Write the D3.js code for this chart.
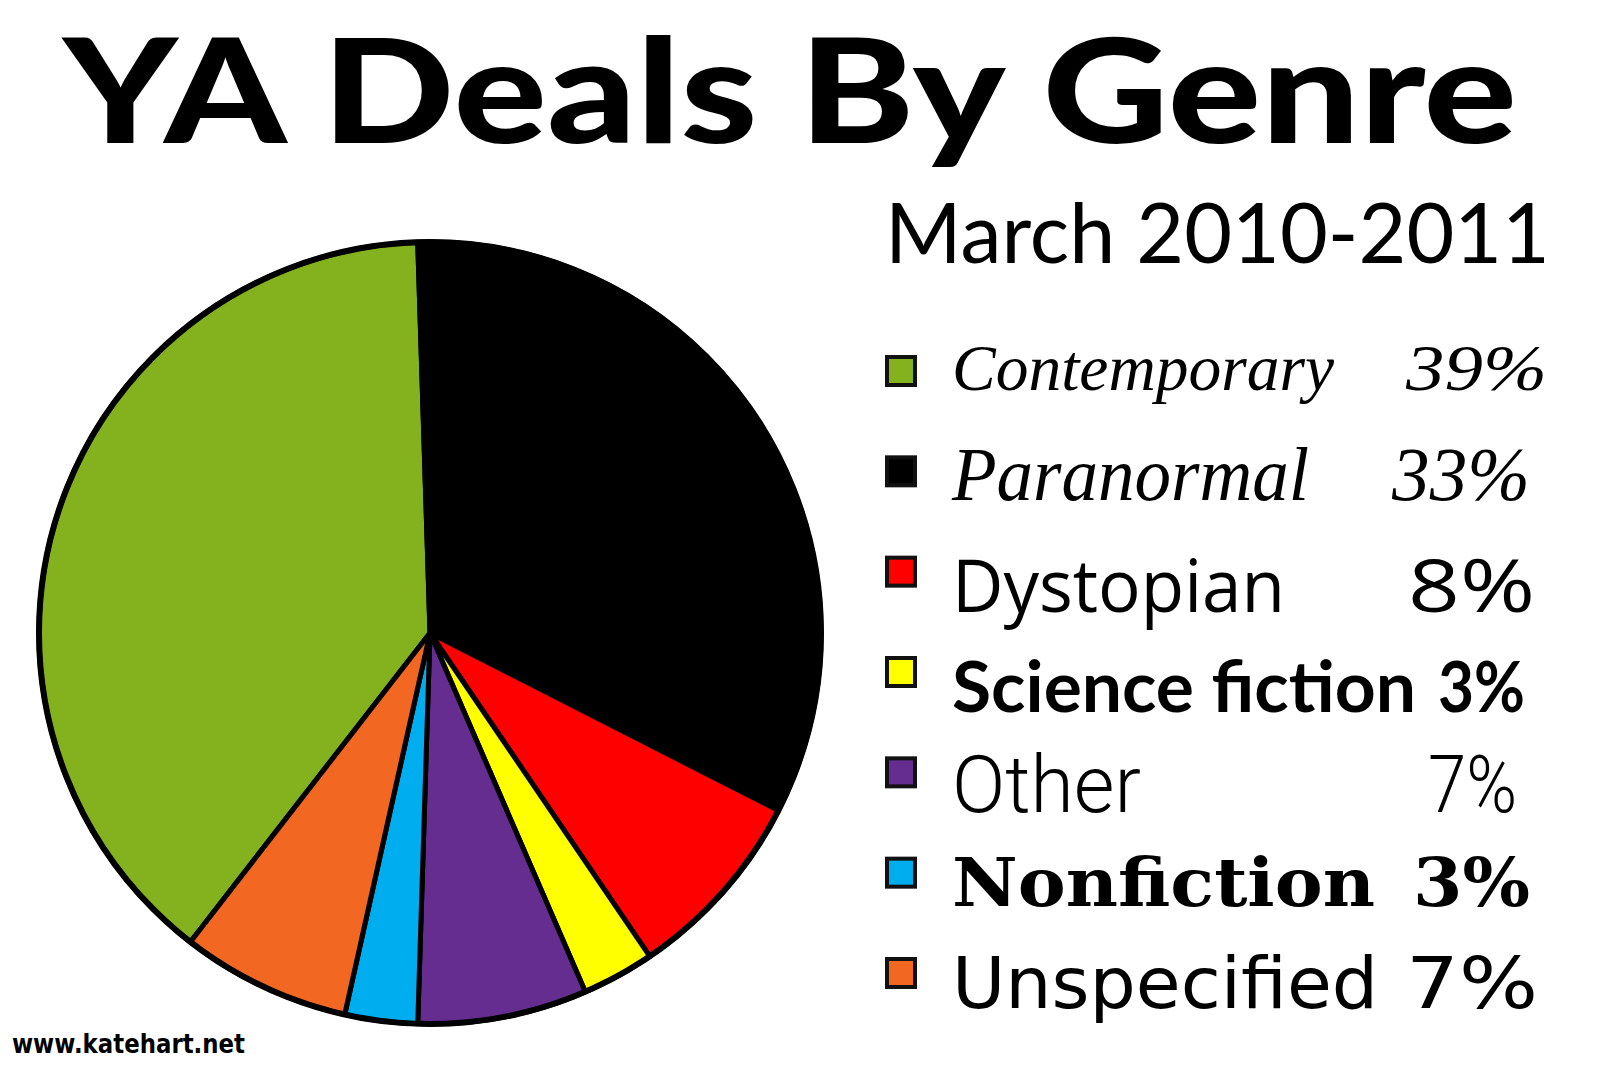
<!DOCTYPE html>
<html>
<head>
<meta charset="utf-8">
<script src="https://cdn.jsdelivr.net/npm/d3@7"></script>
<style>
  html, body { margin: 0; padding: 0; background: #fff; }
  svg { display: block; }
</style>
</head>
<body>
<div id="chart"></div>
<script>
// data
const genres = ["Contemporary", "Paranormal", "Dystopian", "Science fiction", "Other", "Nonfiction", "Unspecified"];
const shares = [39, 33, 8, 3, 7, 3, 7];
const sliceColors = ["#84b11e", "#000000", "#ff0000", "#ffff00", "#662d91", "#00aeef", "#f26722"];

// one font per legend row, as in the original
const rowFonts = [
  { family: "Liberation Serif", style: "italic", weight: 400, size: 66 },
  { family: "Liberation Serif", style: "italic", weight: 400, size: 76 },
  { family: "Open Sans", style: "normal", weight: 400, size: 74 },
  { family: "Lato", style: "normal", weight: 700, size: 70 },
  { family: "Roboto", style: "normal", weight: 300, size: 80 },
  { family: "DejaVu Serif", style: "normal", weight: 700, size: 68 },
  { family: "DejaVu Sans", style: "normal", weight: 400, size: 72 }
];
// baseline offset under each legend square, label widths and right edge of the percentages
const rowBaseline = [33, 43, 54, 54, 54, 47, 49];
const nameWidth = [382, 357, 333, 464, 189, 423, 426];
const pctWidth = [141, 138, 127, 87, 89, 117, 132];
const pctRight = [1547, 1530, 1535, 1525, 1517, 1530, 1538];

const width = 1600;
const height = 1066;

const svg = d3.select("#chart").append("svg").attr("width", width).attr("height", height);

//Title
svg.append("text").attr("x", 63).attr("y", 143)
  .attr("textLength", 1454).attr("lengthAdjust", "spacingAndGlyphs")
  .style("font-family", "Lato").style("font-weight", 900).style("font-size", "144px")
  .text("YA Deals By Genre");

//Subtitle
svg.append("text").attr("x", 885).attr("y", 263)
  .attr("textLength", 665).attr("lengthAdjust", "spacingAndGlyphs")
  .style("font-family", "Lato").style("font-weight", 400).style("font-size", "84px")
  .text("March 2010-2011");

//Pie
const color = d3.scaleOrdinal().domain(genres).range(sliceColors);
const startDeg = -142.2;
const pie = d3.pie().sort(null).value(d => d.share)
  .startAngle(startDeg * Math.PI / 180)
  .endAngle(startDeg * Math.PI / 180 + 2 * Math.PI);
const radius = 391;
const arc = d3.arc().innerRadius(0).outerRadius(radius);

const rows = genres.map((g, i) => ({ genre: g, share: shares[i] }));

const pieG = svg.append("g").attr("transform", "translate(430, 633)");
pieG.selectAll("path").data(pie(rows)).enter().append("path")
  .attr("d", arc)
  .attr("fill", d => color(d.data.genre))
  .attr("stroke", "#000")
  .attr("stroke-width", 5)
  .attr("stroke-linejoin", "round");
pieG.append("circle").attr("r", radius).attr("fill", "none").attr("stroke", "#000").attr("stroke-width", 6);

//Legend
const rowY = d3.scaleLinear().domain([0, genres.length - 1]).range([357, 959]);
const legend = svg.append("g").attr("id", "legend");
const item = legend.selectAll("g").data(rows).enter().append("g");

item.append("rect")
  .attr("x", 887).attr("y", (d, i) => rowY(i))
  .attr("width", 28).attr("height", 28)
  .attr("fill", d => color(d.genre))
  .attr("stroke", "#111").attr("stroke-width", 4);

item.append("text")
  .attr("x", 952).attr("y", (d, i) => rowY(i) + rowBaseline[i])
  .attr("textLength", (d, i) => nameWidth[i]).attr("lengthAdjust", "spacingAndGlyphs")
  .style("font-family", (d, i) => rowFonts[i].family)
  .style("font-style", (d, i) => rowFonts[i].style)
  .style("font-weight", (d, i) => rowFonts[i].weight)
  .style("font-size", (d, i) => rowFonts[i].size + "px")
  .text(d => d.genre);

item.append("text")
  .attr("x", (d, i) => pctRight[i] - pctWidth[i]).attr("y", (d, i) => rowY(i) + rowBaseline[i])
  .attr("textLength", (d, i) => pctWidth[i]).attr("lengthAdjust", "spacingAndGlyphs")
  .style("font-family", (d, i) => rowFonts[i].family)
  .style("font-style", (d, i) => rowFonts[i].style)
  .style("font-weight", (d, i) => rowFonts[i].weight)
  .style("font-size", (d, i) => rowFonts[i].size + "px")
  .text(d => d.share + "%");

//Footer
svg.append("text").attr("x", 12).attr("y", 1053)
  .attr("textLength", 233).attr("lengthAdjust", "spacingAndGlyphs")
  .style("font-family", "DejaVu Sans").style("font-weight", 700).style("font-size", "27px")
  .text("www.katehart.net");
</script>
</body>
</html>
